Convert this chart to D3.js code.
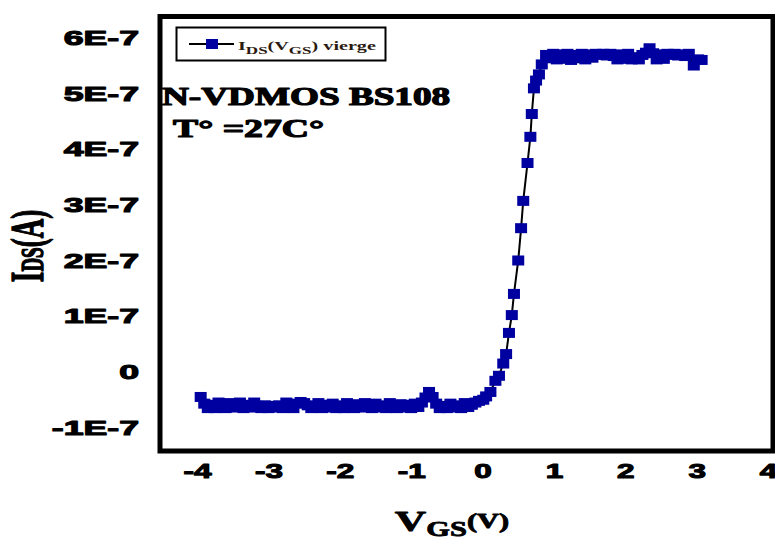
<!DOCTYPE html>
<html>
<head>
<meta charset="utf-8">
<script src="https://cdn.jsdelivr.net/npm/d3@7/dist/d3.min.js"></script>
<style>
  html, body { margin: 0; padding: 0; background: #fff; }
  svg { display: block; }
</style>
</head>
<body>
<svg id="chart" width="775" height="541"></svg>
<script>
// Transfer characteristic I_DS(V_GS) of an N-VDMOS BS108, virgin device, 27 °C.
// Gate-source voltage (V)
const vgs = [
  -3.95, -3.90, -3.85, -3.80, -3.75, -3.70, -3.65, -3.60, -3.55, -3.50,
  -3.45, -3.40, -3.35, -3.30, -3.25, -3.20, -3.15, -3.10, -3.05, -3.00,
  -2.95, -2.90, -2.85, -2.80, -2.75, -2.70, -2.65, -2.60, -2.55, -2.50,
  -2.45, -2.40, -2.35, -2.30, -2.25, -2.20, -2.15, -2.10, -2.05, -2.00,
  -1.95, -1.90, -1.85, -1.80, -1.75, -1.70, -1.65, -1.60, -1.55, -1.50,
  -1.45, -1.40, -1.35, -1.30, -1.25, -1.20, -1.15, -1.10, -1.05, -1.00,
  -0.95, -0.90, -0.85, -0.80, -0.75, -0.70, -0.65, -0.60, -0.55, -0.50,
  -0.45, -0.40, -0.35, -0.30, -0.25, -0.20, -0.15, -0.10, -0.05,
  0.01, 0.05, 0.11, 0.18, 0.23, 0.29, 0.33, 0.37, 0.41, 0.44,
  0.50, 0.54, 0.57, 0.63, 0.67, 0.69, 0.72, 0.75, 0.79, 0.83, 0.89,
  0.94, 0.99, 1.04, 1.09, 1.14, 1.19, 1.24, 1.29, 1.34, 1.39,
  1.44, 1.49, 1.54, 1.59, 1.64, 1.69, 1.74, 1.79, 1.84, 1.89,
  1.94, 1.99, 2.04, 2.09, 2.14, 2.19, 2.24, 2.29, 2.34, 2.39,
  2.44, 2.49, 2.54, 2.59, 2.64, 2.69, 2.74, 2.79, 2.84, 2.89,
  2.96, 3.02, 3.07
];
// Drain-source current, in units of 1E-7 A
const idsE7 = [
  -0.46, -0.58, -0.66, -0.60, -0.66, -0.56, -0.64, -0.66, -0.57, -0.65,
  -0.62, -0.56, -0.66, -0.60, -0.65, -0.56, -0.62, -0.66, -0.61, -0.66,
  -0.62, -0.65, -0.61, -0.66, -0.56, -0.63, -0.66, -0.58, -0.55, -0.57,
  -0.61, -0.66, -0.63, -0.57, -0.66, -0.60, -0.65, -0.58, -0.66, -0.61,
  -0.66, -0.57, -0.63, -0.66, -0.59, -0.65, -0.57, -0.64, -0.66, -0.58,
  -0.65, -0.61, -0.66, -0.57, -0.63, -0.66, -0.59, -0.65, -0.60, -0.66,
  -0.58, -0.64, -0.56, -0.47, -0.37, -0.46, -0.58, -0.66, -0.62, -0.66,
  -0.58, -0.65, -0.61, -0.66, -0.57, -0.64, -0.60, -0.56, -0.53,
  -0.51, -0.45, -0.37, -0.17, -0.08, 0.14, 0.31, 0.69, 1.01, 1.39,
  1.99, 2.57, 3.06, 3.74, 4.21, 4.62, 5.08, 5.22, 5.33, 5.51, 5.68,
  5.62, 5.70, 5.60, 5.69, 5.61, 5.70, 5.59, 5.68, 5.62, 5.70,
  5.60, 5.69, 5.63, 5.70, 5.68, 5.70, 5.67, 5.70, 5.66, 5.60,
  5.69, 5.61, 5.70, 5.60, 5.64, 5.60, 5.68, 5.72, 5.80, 5.71,
  5.60, 5.69, 5.61, 5.70, 5.68, 5.70, 5.67, 5.69, 5.66, 5.70,
  5.49, 5.60, 5.59
];

const xTickValues = [-4, -3, -2, -1, 0, 1, 2, 3, 4];
const xTickLabels = ["-4", "-3", "-2", "-1", "0", "1", "2", "3", "4"];
const yTickValues = [-1, 0, 1, 2, 3, 4, 5, 6];
const yTickLabels = ["-1E-7", "0", "1E-7", "2E-7", "3E-7", "4E-7", "5E-7", "6E-7"];

const svg = d3.select("#chart");
const frame = { left: 160, right: 773, top: 16.5, bottom: 451 };

const x = d3.scaleLinear().domain([-4.52, 4.07]).range([frame.left, frame.right]);
const y = d3.scaleLinear().domain([-1.43, 6.37]).range([frame.bottom, frame.top]);

const points = vgs.map((v, i) => ({ v: v, i: idsE7[i] }));

const SANS = "'Liberation Sans', Arial, sans-serif";
const SERIF = "'Liberation Serif', 'Times New Roman', serif";
const markColor = "#0000a0";

// heavy black lettering: bold face plus a thin outline
function heavy(sel, w) {
  return sel.attr("fill", "#000").attr("stroke", "#000")
    .attr("stroke-width", w).attr("stroke-linejoin", "round");
}

// Y axis (labels only, no ticks)
const yLabelScale = 1.7;
const yAxis = svg.append("g")
  .attr("transform", `translate(${frame.left},0)`)
  .call(d3.axisLeft(y).tickValues(yTickValues)
    .tickFormat((d, k) => yTickLabels[k]).tickSize(0).tickPadding(0));
yAxis.select(".domain").remove();
heavy(yAxis.selectAll("text")
  .attr("x", 0).attr("dy", "0.35em")
  .attr("transform", `translate(-21,0) scale(${yLabelScale},1)`)
  .attr("font-family", SANS).attr("font-weight", "bold")
  .attr("font-size", 21), 1.1);

// X axis (labels only, no ticks)
const xLabelScale = 1.5;
const xAxis = svg.append("g")
  .attr("transform", `translate(0,${frame.bottom})`)
  .call(d3.axisBottom(x).tickValues(xTickValues)
    .tickFormat((d, k) => xTickLabels[k]).tickSize(0).tickPadding(0));
xAxis.select(".domain").remove();
heavy(xAxis.selectAll("text")
  .attr("y", 0).attr("dy", 0)
  .attr("transform", `translate(0,27) scale(${xLabelScale},1)`)
  .attr("font-family", SANS).attr("font-weight", "bold")
  .attr("font-size", 21), 1.1);

// Connecting line
svg.append("path")
  .datum(points)
  .attr("fill", "none")
  .attr("stroke", "#000")
  .attr("stroke-width", 2)
  .attr("d", d3.line().x(d => x(d.v)).y(d => y(d.i)));

// Square markers
const mw = 12, mh = 10;
svg.append("g").selectAll("rect")
  .data(points)
  .join("rect")
  .attr("x", d => x(d.v) - mw / 2)
  .attr("y", d => y(d.i) - mh / 2)
  .attr("width", mw)
  .attr("height", mh)
  .attr("fill", markColor);

// Plot frame
svg.append("rect")
  .attr("x", frame.left).attr("y", frame.top)
  .attr("width", frame.right - frame.left)
  .attr("height", frame.bottom - frame.top)
  .attr("fill", "none").attr("stroke", "#000").attr("stroke-width", 5);

// Legend
const lg = svg.append("g");
lg.append("rect")
  .attr("x", 176.5).attr("y", 27.5).attr("width", 209).attr("height", 33)
  .attr("fill", "#fff").attr("stroke", "#000").attr("stroke-width", 2);
lg.append("line")
  .attr("x1", 189).attr("x2", 234).attr("y1", 44).attr("y2", 44)
  .attr("stroke", "#000").attr("stroke-width", 2);
lg.append("rect")
  .attr("x", 206).attr("y", 39).attr("width", 12).attr("height", 10)
  .attr("fill", markColor);
const lt = lg.append("text")
  .attr("transform", "translate(238,50) scale(1.55,1)")
  .attr("font-family", SERIF).attr("font-weight", "bold")
  .attr("font-size", 13).attr("fill", "#2a1a10");
lt.append("tspan").text("I");
lt.append("tspan").attr("font-size", 11).attr("dy", 4).text("DS");
lt.append("tspan").attr("dy", -4).text("(V");
lt.append("tspan").attr("font-size", 11).attr("dy", 4).text("GS");
lt.append("tspan").attr("dy", -4).text(") vierge");

// Device annotations
heavy(svg.append("text")
  .attr("transform", "translate(162,105) scale(1.43,1)")
  .attr("font-family", SERIF).attr("font-weight", "bold")
  .attr("font-size", 26), 1.2)
  .text("N-VDMOS BS108");
heavy(svg.append("text")
  .attr("transform", "translate(173,137) scale(1.45,1)")
  .attr("font-family", SERIF).attr("font-weight", "bold")
  .attr("font-size", 26), 1.2)
  .text("T° =27C°");

// Axis titles
const yt = heavy(svg.append("text")
  .attr("transform", "translate(43,246) scale(1.7,1) rotate(-90)")
  .attr("text-anchor", "middle")
  .attr("font-family", SERIF).attr("font-weight", "bold")
  .attr("font-size", 27), 0.8);
yt.append("tspan").text("I");
yt.append("tspan").attr("font-size", 19).text("DS");
yt.append("tspan").text("(A)");

const xt = heavy(svg.append("text")
  .attr("transform", "translate(452,531) scale(1.45,1)")
  .attr("text-anchor", "middle")
  .attr("font-family", SERIF).attr("font-weight", "bold")
  .attr("font-size", 30), 0.8);
xt.append("tspan").text("V");
xt.append("tspan").attr("font-size", 21).attr("dy", 5).text("GS");
xt.append("tspan").attr("font-size", 21).attr("dy", -8).text("(V)");
</script>
</body>
</html>
